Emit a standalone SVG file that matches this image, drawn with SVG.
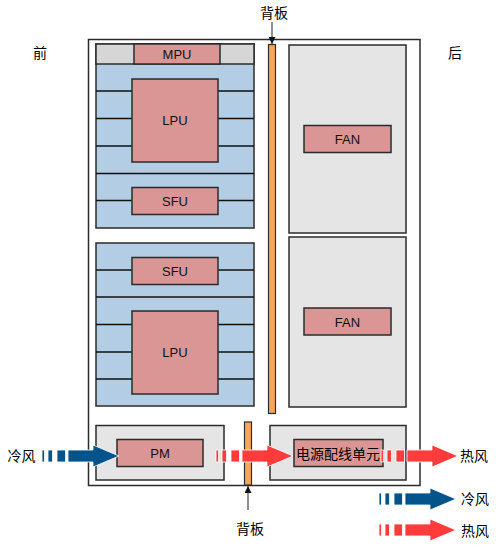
<svg xmlns="http://www.w3.org/2000/svg" width="496" height="546" viewBox="0 0 496 546">
<style>
.t{font-family:"Liberation Sans","Noto Sans CJK SC",sans-serif;font-size:13px;fill:#111;text-anchor:middle;dominant-baseline:central}
.zh{font-family:"Noto Sans CJK SC","Liberation Sans",sans-serif;font-size:14px;fill:#000;text-anchor:middle;dominant-baseline:central}
.box{stroke:#2b2b2b;stroke-width:1.5}
.gray{fill:#e5e5e5}
.dgray{fill:#d6d6d6}
.blue{fill:#b3cde4}
.pink{fill:#d99694}
.orange{fill:#f5a55a;stroke:#2b2b2b;stroke-width:1.2}
.ln{stroke:#111;stroke-width:1.5;fill:none}
.cold{fill:#02548a}
.hot{fill:#ff3b3b}
.ptr{stroke:#555;stroke-width:1.3;fill:none}
</style>
<defs>
<g id="flow" stroke="#fff" stroke-width="0.8">
<rect x="0" y="-6" width="2.5" height="12"/>
<rect x="6" y="-6" width="4.5" height="12"/>
<rect x="15" y="-6" width="8.5" height="12"/>
<polygon points="26,-6 51,-6 51,-11 77,0 51,11 51,6 26,6"/>
</g>
<marker id="ah" viewBox="0 0 10 10" refX="10" refY="5" markerWidth="7" markerHeight="7" orient="auto-start-reverse" markerUnits="userSpaceOnUse">
<path d="M0,0 L10,5 L0,10 z" fill="#111"/>
</marker>
</defs>

<g id="chassis">
<rect x="88.5" y="39.5" width="331.5" height="446" fill="#fff" class="box"/>
</g>

<g id="card-top">
<rect x="96" y="44" width="158" height="184" class="blue box"/>
<rect x="96" y="44" width="158" height="20" class="dgray box"/>
<line x1="96" y1="91" x2="254" y2="91" class="ln"/>
<line x1="96" y1="118.5" x2="254" y2="118.5" class="ln"/>
<line x1="96" y1="146" x2="254" y2="146" class="ln"/>
<line x1="96" y1="173.5" x2="254" y2="173.5" class="ln"/>
<line x1="96" y1="200.5" x2="254" y2="200.5" class="ln"/>
</g>
<g id="mpu"><rect x="134" y="44" width="86" height="20" class="pink box"/><text class="t" x="177" y="54.5">MPU</text></g>
<g id="lpu1"><rect x="132" y="79" width="86" height="83" class="pink box"/><text class="t" x="175" y="120">LPU</text></g>
<g id="sfu1"><rect x="132" y="187.5" width="86" height="27" class="pink box"/><text class="t" x="175" y="201">SFU</text></g>

<g id="card-bottom">
<rect x="96" y="243" width="158" height="163" class="blue box"/>
<line x1="96" y1="270" x2="254" y2="270" class="ln"/>
<line x1="96" y1="297" x2="254" y2="297" class="ln"/>
<line x1="96" y1="324.5" x2="254" y2="324.5" class="ln"/>
<line x1="96" y1="352" x2="254" y2="352" class="ln"/>
<line x1="96" y1="379" x2="254" y2="379" class="ln"/>
</g>
<g id="sfu2"><rect x="132" y="257.5" width="86" height="27" class="pink box"/><text class="t" x="175" y="271">SFU</text></g>
<g id="lpu2"><rect x="132" y="311" width="86" height="83" class="pink box"/><text class="t" x="175" y="352.5">LPU</text></g>

<g id="backplane-top"><rect x="268.5" y="44.5" width="7" height="369" class="orange"/></g>
<g id="backplane-bottom"><rect x="244.5" y="422" width="7" height="63" class="orange"/></g>

<g id="fan1"><rect x="289" y="45" width="117" height="188" class="gray box"/><rect x="304" y="125.5" width="87" height="27" class="pink box"/><text class="t" x="347.5" y="139.5">FAN</text></g>
<g id="fan2"><rect x="289" y="237" width="117" height="170" class="gray box"/><rect x="304" y="308" width="87" height="27" class="pink box"/><text class="t" x="347.5" y="322">FAN</text></g>

<g id="pm-bay"><rect x="96" y="425.5" width="128" height="54.5" class="gray box"/></g>
<g id="pm"><rect x="117" y="439.5" width="86" height="27" class="pink box"/><text class="t" x="160" y="453.5">PM</text></g>
<g id="pdu-bay"><rect x="270" y="425.5" width="136" height="54.5" class="gray box"/></g>
<g id="pdu"><rect x="294" y="439.5" width="89" height="27" class="pink box"/><text class="zh" x="338" y="453">电源配线单元</text></g>

<g id="connectors">
<use href="#flow" class="cold" transform="translate(42,456)"/>
<use href="#flow" class="hot" transform="translate(216,456)"/>
<use href="#flow" class="hot" transform="translate(381,456)"/>
<use href="#flow" class="cold" transform="translate(379,499)"/>
<use href="#flow" class="hot" transform="translate(379,530)"/>
<line x1="272" y1="22" x2="272" y2="44" class="ptr" marker-end="url(#ah)"/>
<line x1="248" y1="510" x2="248" y2="486" class="ptr" marker-end="url(#ah)"/>
</g>

<g id="labels">
<text class="zh" x="40" y="52">前</text>
<text class="zh" x="455" y="52">后</text>
<text class="zh" x="274" y="12">背板</text>
<text class="zh" x="250" y="528">背板</text>
<text class="zh" x="21.5" y="455">冷风</text>
<text class="zh" x="474" y="455">热风</text>
<text class="zh" x="475" y="498">冷风</text>
<text class="zh" x="475" y="530">热风</text>
</g>
</svg>
